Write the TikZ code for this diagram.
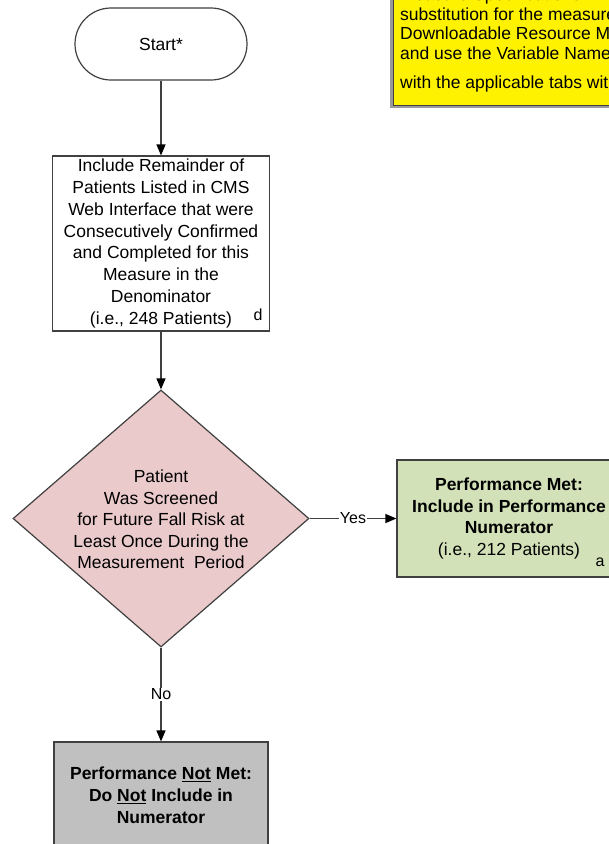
\documentclass[tikz,border=0pt]{standalone}
\usepackage{fontspec}
\setmainfont{Liberation Sans}
\usetikzlibrary{shapes.geometric,arrows.meta}
\definecolor{linegray}{HTML}{404040}
\definecolor{diapink}{HTML}{EACACA}
\definecolor{metgreen}{HTML}{D3E1B8}
\definecolor{notgray}{HTML}{C0C0C0}
\definecolor{shadowgray}{HTML}{9A9A9A}
\begin{document}
\begin{tikzpicture}[x=1pt,y=-1pt,
  box/.style={draw=linegray, line width=1.2pt, align=center, inner sep=0pt, font=\fontsize{17.5}{21.9}\selectfont},
  conn/.style={draw=linegray, line width=1.3pt, -{Triangle[length=11pt,width=9pt,black]}},
  lbl/.style={fill=white, inner sep=1pt, font=\fontsize{16}{19}\selectfont},
  notetext/.style={anchor=base west, inner sep=0pt, font=\fontsize{17.5}{19.5}\selectfont},
  small/.style={inner sep=0pt, font=\fontsize{16}{19}\selectfont}]
\clip (0,0) rectangle (609,844);
\fill[white] (0,0) rectangle (609,844);
% note box (cut off at top and right)
\fill[shadowgray] (390,-60) rectangle (700,108);
\draw[draw=linegray, fill=yellow, line width=1pt] (393,-60) rectangle (700,105);
\node[notetext] (note1) at (400,0.5) {Measure Specifications. The};
\node[notetext] (note2) at (400,20) {substitution for the measure};
\node[notetext] (note3) at (400,39.5) {Downloadable Resource Manual};
\node[notetext] (note4) at (400,59) {and use the Variable Names};
\node[notetext] (note5) at (400,88) {with the applicable tabs within};
% flow
\node[box, rounded corners=36pt, minimum width=172pt, minimum height=72pt] (start) at (161,44) {Start*};
\node[box, minimum width=217pt, minimum height=175pt] (incl) at (161,243.5)
  {Include Remainder of\\Patients Listed in CMS\\Web Interface that were\\Consecutively Confirmed\\and Completed for this\\Measure in the\\Denominator\\(i.e., 248 Patients)};
\node[small] (dlab) at (258,315) {d};
\node[diamond, draw=linegray, line width=1.2pt, fill=diapink, minimum width=296pt, minimum height=257pt, inner sep=0pt] (dec) at (161,518.5) {};
\node[align=center, inner sep=0pt, font=\fontsize{17.5}{21.5}\selectfont] (dectext) at (161,519.5)
  {Patient\\Was Screened\\for Future Fall Risk at\\Least Once During the\\Measurement~ Period};
\node[box, fill=metgreen, minimum width=224pt, minimum height=117pt] (met) at (509,518.5)
  {\textbf{Performance Met:}\\\textbf{Include in Performance}\\\textbf{Numerator}\\(i.e., 212 Patients)};
\node[small] (alab) at (600,562) {a};
\node[box, fill=notgray, minimum width=214pt, minimum height=106pt] (notmet) at (161,795)
  {\textbf{Performance \underline{Not} Met:}\\\textbf{Do \underline{Not} Include in}\\\textbf{Numerator}};
\draw[conn] (start) -- (incl);
\draw[conn] (incl) -- (dec);
\draw[conn] (dec.east) -- node[lbl] (yes) {Yes} (met.west);
\draw[conn] (dec.south) -- node[lbl] (no) {No} (notmet.north);
\end{tikzpicture}
\end{document}
